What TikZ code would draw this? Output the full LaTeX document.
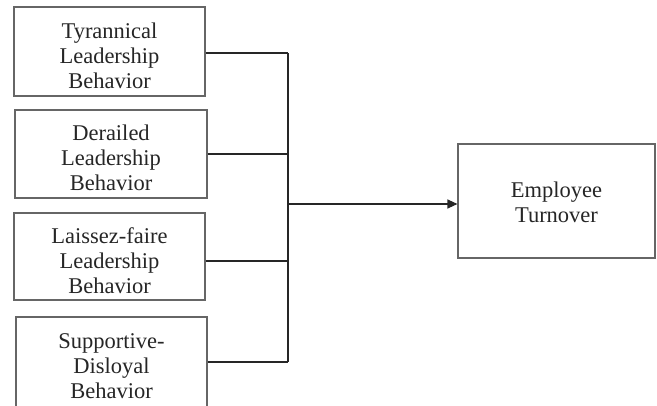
\documentclass[tikz,border=0pt]{standalone}
\usepackage{fontspec}
\setmainfont{Liberation Serif}
\usetikzlibrary{arrows.meta}
\begin{document}
\begin{tikzpicture}[x=1pt,y=-1pt,
  box/.style={draw=black!60, line width=1.1pt, inner sep=0pt},
  txt/.style={align=center, inner sep=0pt, yshift=-4pt,
    font=\fontsize{22.5}{25}\selectfont, text=black!85},
  conn/.style={draw=black!85, line width=1.1pt}]
\useasboundingbox (0,0) rectangle (657,405);
\clip (0,0) rectangle (657,405);
\node[box, minimum width=191pt, minimum height=89pt,
  label={[txt]center:Tyrannical\\Leadership\\Behavior}] (b1) at (109.5,51.5) {};
\node[box, minimum width=192pt, minimum height=88pt,
  label={[txt]center:Derailed\\Leadership\\Behavior}] (b2) at (111,154) {};
\node[box, minimum width=191pt, minimum height=87pt,
  label={[txt]center:Laissez-faire\\Leadership\\Behavior}] (b3) at (109.5,256.5) {};
\node[box, minimum width=191pt, minimum height=100pt,
  label={[txt,yshift=4.5pt]center:Supportive-\\Disloyal\\Behavior}] (b4) at (111.5,367) {};
\node[box, minimum width=197pt, minimum height=114pt,
  label={[txt,yshift=3pt]center:Employee\\Turnover}] (emp) at (556.5,201) {};
\coordinate (busx) at (288,0);
\draw[conn] ([yshift=-1.5pt]b1.east) -- ([yshift=-1.5pt]b1.east -| busx);
\draw[conn] (b2.east) -- (b2.east -| busx);
\draw[conn] ([yshift=-4.5pt]b3.east) -- ([yshift=-4.5pt]b3.east -| busx);
\draw[conn] ([yshift=5pt]b4.east) -- ([yshift=5pt]b4.east -| busx);
\draw[conn] ([yshift=-1.5pt]b1.east -| busx) -- ([yshift=5pt]b4.east -| busx);
\draw[conn, -{Triangle[length=10pt,width=9pt]}] ([yshift=-3pt]emp.west -| busx) -- ([yshift=-3pt]emp.west);
\end{tikzpicture}
\end{document}
